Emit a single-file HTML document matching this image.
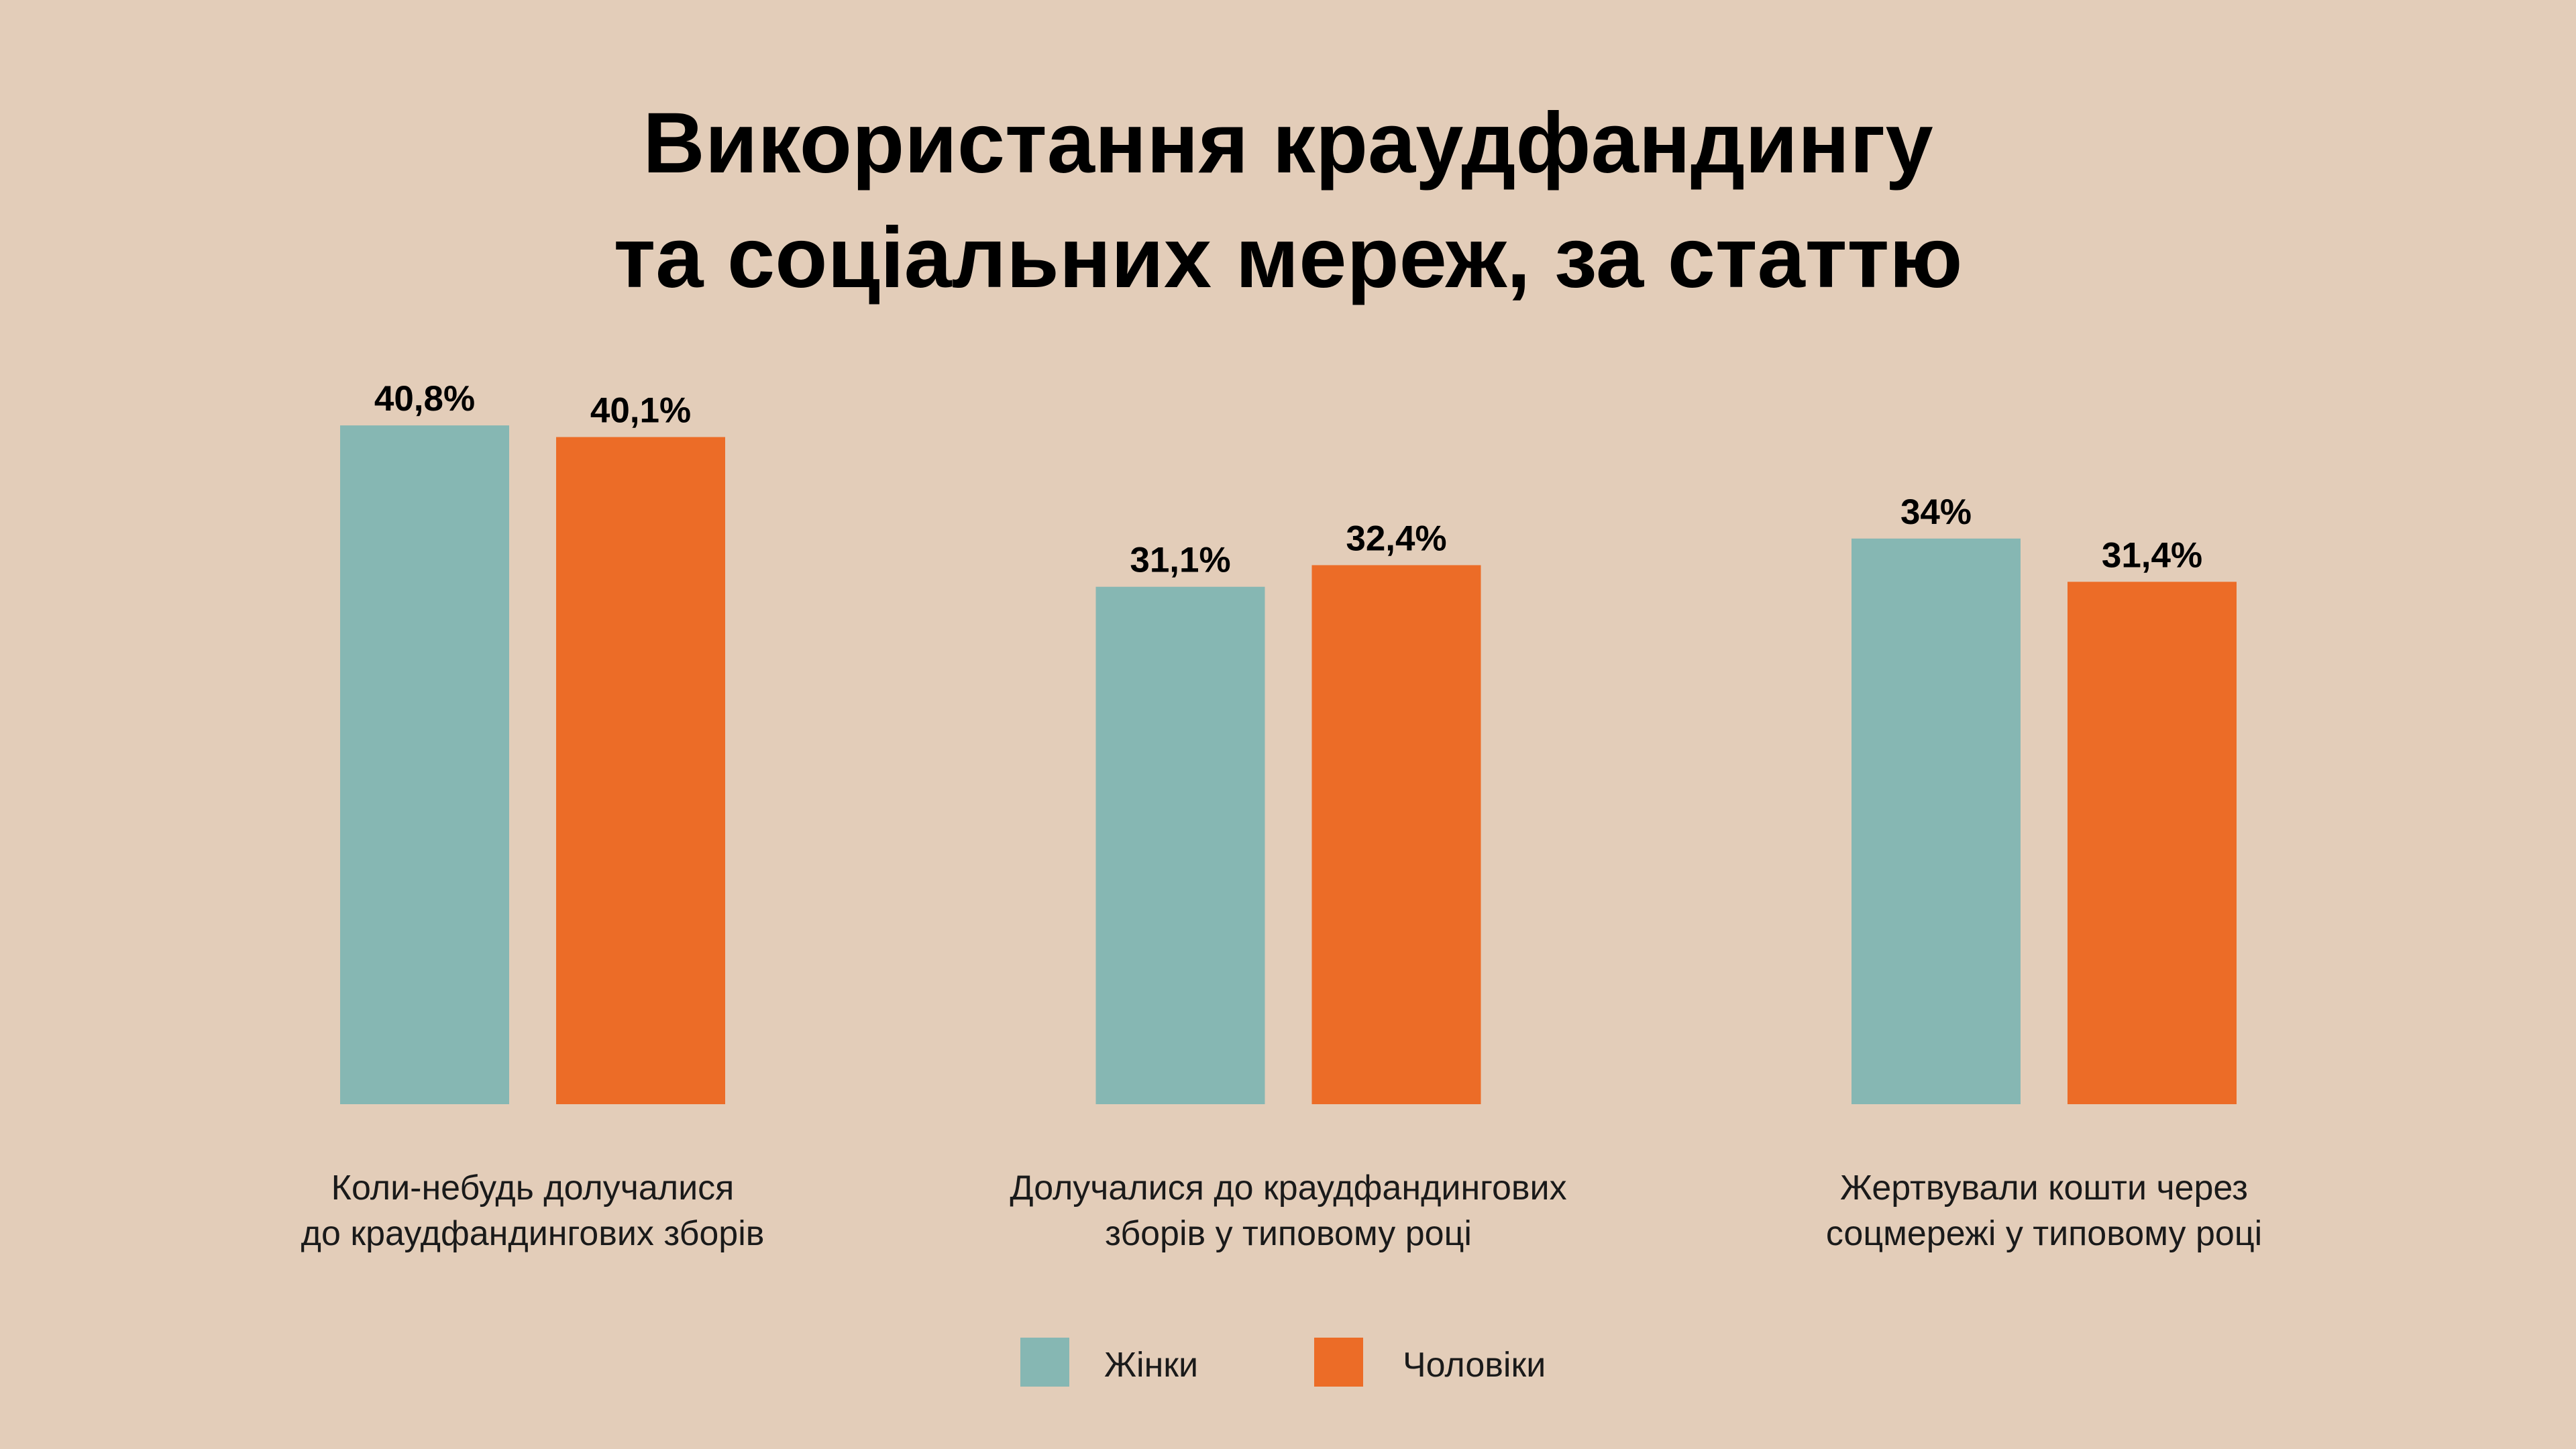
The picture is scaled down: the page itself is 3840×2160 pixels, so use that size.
<!DOCTYPE html>
<html><head><meta charset="utf-8">
<style>
html,body{margin:0;padding:0;background:#e3cdb9;}
svg{display:block;font-family:"Liberation Sans","Noto Sans CJK SC",sans-serif;}
</style></head>
<body>
<svg id="chart" width="3840" height="2160" viewBox="0 0 3840 2160" xmlns="http://www.w3.org/2000/svg">
<rect width="3840" height="2160" fill="#e3cdb9"/>
<g font-weight="bold" font-size="128" text-anchor="middle" fill="#000">
<text x="1920" y="257">Використання краудфандингу</text>
<text x="1920" y="428">та соціальних мереж, за статтю</text>
</g>
<g id="bars"></g>
<g id="cats" font-size="52" fill="#1a1a1a" text-anchor="middle"></g>
<g font-size="52" fill="#1a1a1a">
<g>
<rect x="1521" y="1994" width="73" height="73" fill="#86b7b3"/>
<text x="1646" y="2052">Жінки</text>
</g>
<g>
<rect x="1959" y="1994" width="73" height="73" fill="#ec6c27"/>
<text x="2091" y="2052">Чоловіки</text>
</g>
</g>
</svg>
<script>
const categories = [["Коли-небудь долучалися","до краудфандингових зборів"],["Долучалися до краудфандингових","зборів у типовому році"],["Жертвували кошти через","соцмережі у типовому році"]];
const women = [40.8, 31.1, 34];
const men = [40.1, 32.4, 31.4];
const womenLabels = ["40,8%","31,1%","34%"];
const menLabels = ["40,1%","32,4%","31,4%"];

const NS = "http://www.w3.org/2000/svg";
const baseY = 1646, pxPer = 24.8;
const y = v => baseY - v * pxPer;
const groupLeft = i => 507 + i * 1126.5;
const barW = 252, gap = 70;
const barsG = document.getElementById('bars');
const catsG = document.getElementById('cats');
function mk(tag, attrs){const e=document.createElementNS(NS,tag);for(const k in attrs)e.setAttribute(k,attrs[k]);return e;}
categories.forEach((cat,i)=>{
  const series=[[women[i],womenLabels[i],"#86b7b3","women"],[men[i],menLabels[i],"#ec6c27","men"]];
  series.forEach((s,j)=>{
    const x = groupLeft(i) + j*(barW+gap);
    const r = mk('rect',{x:x,y:y(s[0]),width:barW,height:baseY-y(s[0]),fill:s[2]});
    
    
    barsG.appendChild(r);
    const t = mk('text',{x:x+barW/2,y:y(s[0])-22,'text-anchor':'middle','font-size':53,'font-weight':'bold',fill:'#000'});
    t.textContent = s[1];
    
    
    barsG.appendChild(t);
  });
  const cx = groupLeft(i) + barW + gap/2;
  cat.forEach((line,k)=>{
    const t = mk('text',{x:cx,y:1788+k*68});
    t.textContent = line;
    
    
    catsG.appendChild(t);
  });
});
</script>
</body></html>
